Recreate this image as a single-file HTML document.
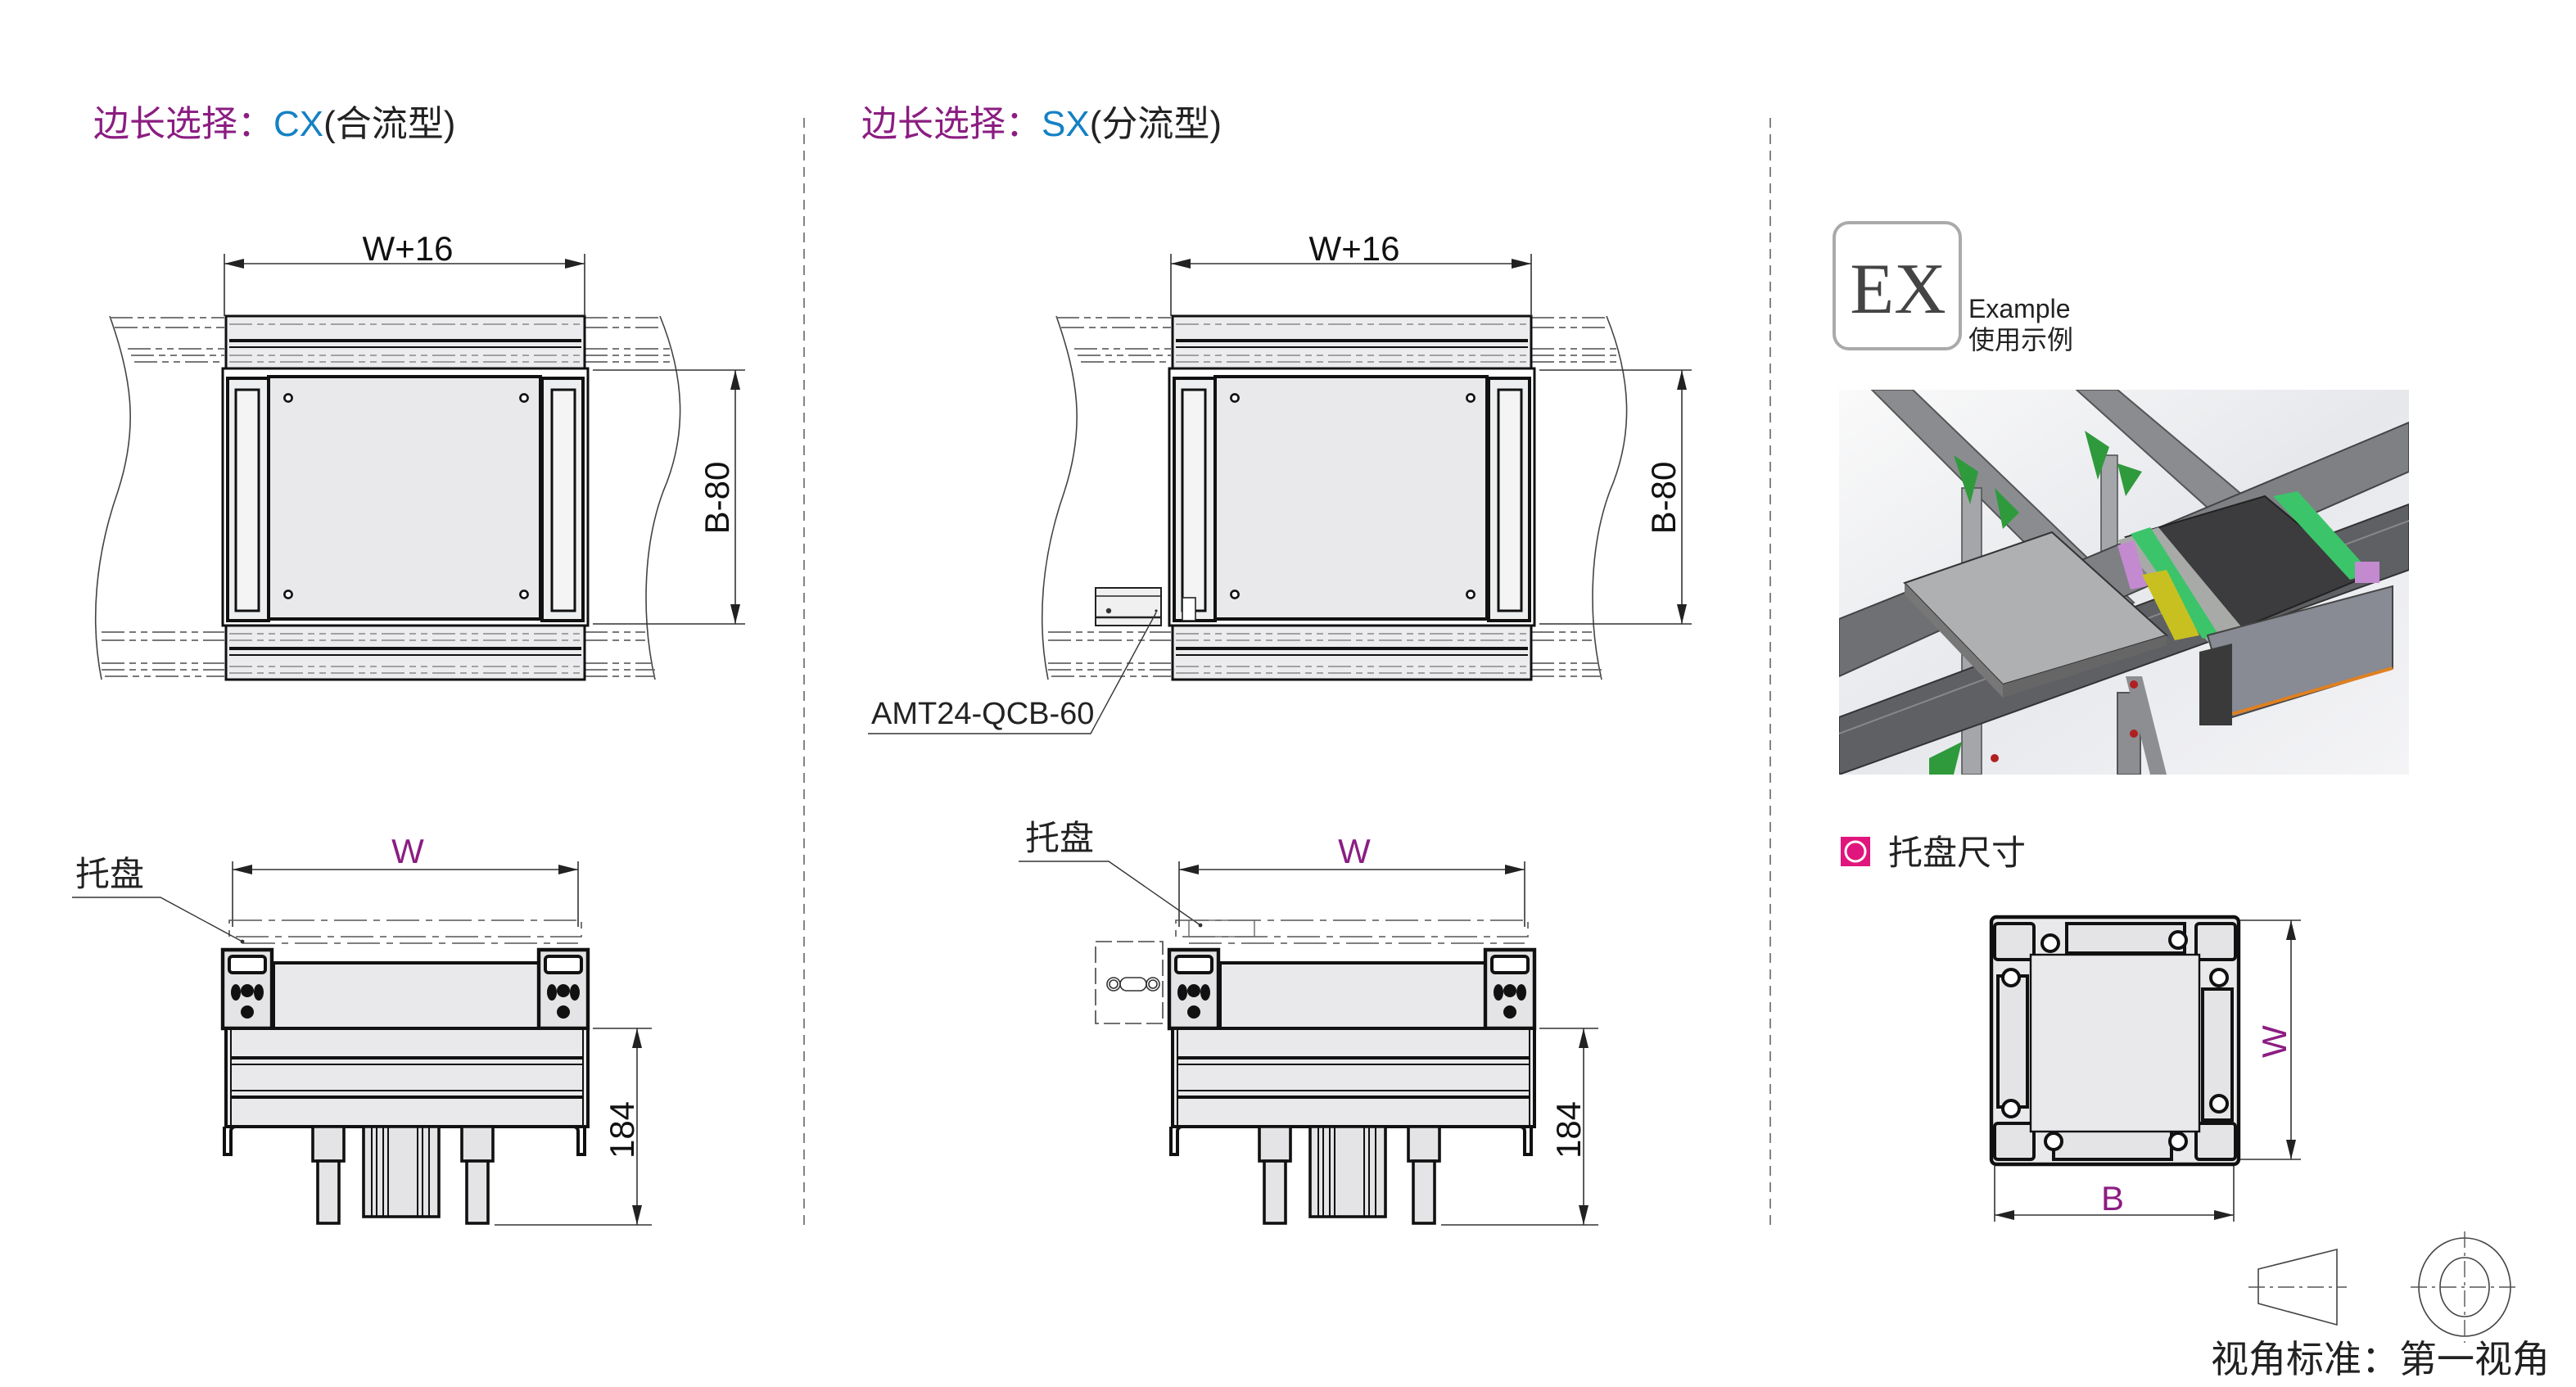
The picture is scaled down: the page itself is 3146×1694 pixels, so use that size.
<!DOCTYPE html>
<html><head><meta charset="utf-8"><style>
html,body{margin:0;padding:0;background:#fff;}
svg{display:block;}
text{font-family:"Liberation Sans","Noto Sans CJK SC",sans-serif;}
</style></head><body>
<svg width="3146" height="1694" viewBox="0 0 1573 847" xmlns="http://www.w3.org/2000/svg">
<defs>
<marker id="ar" markerWidth="12" markerHeight="6" refX="12" refY="3" orient="auto-start-reverse" markerUnits="userSpaceOnUse"><path d="M0,0 L12,3 L0,6 Z" fill="#222"/></marker>
<linearGradient id="bg" x1="0" y1="0" x2="1" y2="1"><stop offset="0" stop-color="#fafafa"/><stop offset="0.5" stop-color="#e6e8ec"/><stop offset="1" stop-color="#f4f4f6"/></linearGradient>

<g id="top">
  <g fill="none" stroke="#444" stroke-width="0.8">
    <path d="M67,193 C80,230 85,260 72,300 C58,340 55,380 62,415"/>
    <path d="M403,193 C418,230 420,265 405,300 C392,335 392,380 400,415"/>
  </g>
  <g stroke="#666" stroke-width="0.9" stroke-dasharray="14,3,4,3,4,3">
    <line x1="67" y1="194" x2="137" y2="194"/><line x1="70" y1="200" x2="137" y2="200"/>
    <line x1="78" y1="213" x2="137" y2="213"/><line x1="80" y1="217" x2="137" y2="217"/><line x1="82" y1="221" x2="137" y2="221"/>
    <line x1="357" y1="194" x2="403" y2="194"/><line x1="357" y1="200" x2="405" y2="200"/>
    <line x1="357" y1="213" x2="412" y2="213"/><line x1="357" y1="217" x2="412" y2="217"/><line x1="357" y1="221" x2="412" y2="221"/>
    <line x1="62" y1="386" x2="137" y2="386"/><line x1="62" y1="391" x2="137" y2="391"/>
    <line x1="62" y1="405" x2="137" y2="405"/><line x1="62" y1="409" x2="137" y2="409"/><line x1="64" y1="413" x2="137" y2="413"/>
    <line x1="357" y1="386" x2="394" y2="386"/><line x1="357" y1="391" x2="394" y2="391"/>
    <line x1="357" y1="405" x2="398" y2="405"/><line x1="357" y1="409" x2="400" y2="409"/><line x1="357" y1="413" x2="400" y2="413"/>
  </g>
  <rect x="138" y="193" width="219" height="32" fill="#ececee" stroke="#111" stroke-width="1.5"/>
  <line x1="140" y1="208" x2="355" y2="208" stroke="#111" stroke-width="2"/>
  <line x1="140" y1="212" x2="355" y2="212" stroke="#111" stroke-width="1"/>
  <g stroke="#888" stroke-width="0.8" stroke-dasharray="14,3,4,3,4,3">
    <line x1="140" y1="198" x2="355" y2="198"/><line x1="140" y1="217" x2="355" y2="217"/><line x1="140" y1="221" x2="355" y2="221"/>
  </g>
  <rect x="138" y="382" width="219" height="33" fill="#ececee" stroke="#111" stroke-width="1.5"/>
  <line x1="140" y1="396" x2="355" y2="396" stroke="#111" stroke-width="2"/>
  <line x1="140" y1="400" x2="355" y2="400" stroke="#111" stroke-width="1"/>
  <g stroke="#888" stroke-width="0.8" stroke-dasharray="14,3,4,3,4,3">
    <line x1="140" y1="387" x2="355" y2="387"/><line x1="140" y1="391" x2="355" y2="391"/><line x1="140" y1="407" x2="355" y2="407"/><line x1="140" y1="411" x2="355" y2="411"/>
  </g>
  <rect x="136" y="225" width="223" height="157" fill="#fff" stroke="#111" stroke-width="1.5"/>
  <rect x="164" y="230" width="166" height="148" fill="#e9e9ec" stroke="#111" stroke-width="2"/>
  <rect x="139" y="231" width="25" height="148" fill="#eceef0" stroke="#111" stroke-width="2"/>
  <rect x="144" y="238" width="14" height="135" fill="#f4f4f4" stroke="#111" stroke-width="1.5"/>
  <rect x="331" y="231" width="25" height="148" fill="#eceef0" stroke="#111" stroke-width="2"/>
  <rect x="337" y="238" width="14" height="135" fill="#f4f4f4" stroke="#111" stroke-width="1.5"/>
  <g fill="#fff" stroke="#111" stroke-width="1.3">
    <circle cx="176" cy="243" r="2.3"/><circle cx="320" cy="243" r="2.3"/>
    <circle cx="176" cy="363" r="2.3"/><circle cx="320" cy="363" r="2.3"/>
  </g>
  <g stroke="#333" stroke-width="0.8" fill="none">
    <line x1="137" y1="155" x2="137" y2="193"/><line x1="357" y1="155" x2="357" y2="193"/>
    <line x1="137" y1="161" x2="357" y2="161" marker-start="url(#ar)" marker-end="url(#ar)"/>
    <line x1="362" y1="226" x2="455" y2="226"/><line x1="362" y1="381" x2="455" y2="381"/>
    <line x1="449" y1="226" x2="449" y2="381" marker-start="url(#ar)" marker-end="url(#ar)"/>
  </g>
  <text x="249" y="159" font-size="21" text-anchor="middle" fill="#111">W+16</text>
  <text transform="translate(445,304) rotate(-90)" font-size="21" text-anchor="middle" fill="#111">B-80</text>
</g>

<g id="front">
  <g stroke="#333" stroke-width="0.8" fill="none">
    <line x1="142" y1="526" x2="142" y2="566"/><line x1="353" y1="526" x2="353" y2="566"/>
    <line x1="142" y1="531" x2="353" y2="531" marker-start="url(#ar)" marker-end="url(#ar)"/>
  </g>
  <rect x="140" y="562" width="215" height="10" fill="none" stroke="#555" stroke-width="0.8" stroke-dasharray="20,4,4,4"/>
  <line x1="148" y1="576" x2="353" y2="576" stroke="#555" stroke-width="0.8" stroke-dasharray="20,4,4,4"/>
  <rect x="167" y="588" width="162" height="40" fill="#e9e9ec" stroke="#111" stroke-width="2"/>
  <g fill="#e4e4e6" stroke="#111" stroke-width="2.2">
    <path d="M136,580 h30 v48 h-30 z"/>
    <path d="M329,580 h30 v48 h-30 z"/>
  </g>
  <g fill="#fff" stroke="#111" stroke-width="2">
    <rect x="140" y="584" width="22" height="10" rx="2"/>
    <rect x="333" y="584" width="22" height="10" rx="2"/>
  </g>
  <g fill="#111">
    <ellipse cx="144" cy="606" rx="3" ry="5"/><ellipse cx="158" cy="606" rx="3" ry="5"/><circle cx="151" cy="605" r="4"/><circle cx="151" cy="618" r="4"/>
    <ellipse cx="337" cy="606" rx="3" ry="5"/><ellipse cx="351" cy="606" rx="3" ry="5"/><circle cx="344" cy="605" r="4"/><circle cx="344" cy="618" r="4"/>
  </g>
  <rect x="138" y="628" width="221" height="60" fill="#e9e9ec" stroke="#111" stroke-width="2"/>
  <rect x="141" y="628" width="215" height="60" fill="none" stroke="#111" stroke-width="1"/>
  <g stroke="#111">
    <line x1="141" y1="646" x2="356" y2="646" stroke-width="2"/><line x1="141" y1="650" x2="356" y2="650" stroke-width="1"/>
    <line x1="141" y1="666" x2="356" y2="666" stroke-width="1"/><line x1="141" y1="670" x2="356" y2="670" stroke-width="2"/>
  </g>
  <path d="M137,688 v17 h4 v-14 q0,-3 3,-3 h206 q3,0 3,3 v14 h4 v-17" fill="none" stroke="#111" stroke-width="2"/>
  <g fill="#e4e4e6" stroke="#111" stroke-width="1.8">
    <rect x="191" y="688" width="19" height="21"/><rect x="194" y="709" width="13" height="38"/>
    <rect x="282" y="688" width="19" height="21"/><rect x="285" y="709" width="13" height="38"/>
    <rect x="222" y="688" width="46" height="55"/>
  </g>
  <g stroke="#111" stroke-width="1">
    <line x1="227" y1="688" x2="227" y2="743"/><line x1="230" y1="688" x2="230" y2="743"/><line x1="234" y1="688" x2="234" y2="743"/><line x1="237" y1="688" x2="237" y2="743"/>
    <line x1="255" y1="688" x2="255" y2="743"/><line x1="258" y1="688" x2="258" y2="743"/><line x1="262" y1="688" x2="262" y2="743"/>
  </g>
  <g stroke="#333" stroke-width="0.8" fill="none">
    <line x1="362" y1="628" x2="398" y2="628"/><line x1="302" y1="748" x2="398" y2="748"/>
    <line x1="389" y1="628" x2="389" y2="748" marker-start="url(#ar)" marker-end="url(#ar)"/>
  </g>
  <text transform="translate(387,690) rotate(-90)" font-size="21" text-anchor="middle" fill="#111">184</text>
  <text x="249" y="527" font-size="21" text-anchor="middle" fill="#8b1d82">W</text>
</g>
</defs>

<text x="57" y="83" font-size="22"><tspan fill="#8b1d82">边长选择：</tspan><tspan fill="#1481c4">CX</tspan><tspan fill="#222">(合流型)</tspan></text>
<text x="526" y="83" font-size="22"><tspan fill="#8b1d82">边长选择：</tspan><tspan fill="#1481c4">SX</tspan><tspan fill="#222">(分流型)</tspan></text>

<line x1="491" y1="72" x2="491" y2="752" stroke="#777" stroke-width="0.9" stroke-dasharray="6,4"/>
<line x1="1081" y1="72" x2="1081" y2="752" stroke="#777" stroke-width="0.9" stroke-dasharray="6,4"/>

<use href="#top"/>
<use href="#top" x="578"/>
<use href="#front"/>
<use href="#front" x="578"/>

<text x="46" y="541" font-size="21" fill="#222">托盘</text>
<polyline points="44,548 98,548 148,575" fill="none" stroke="#333" stroke-width="0.7"/>
<circle cx="148" cy="575" r="1.2" fill="#333"/>

<rect x="669" y="359" width="40" height="23" fill="#f0f0f0" stroke="#222" stroke-width="1"/>
<line x1="669" y1="364" x2="709" y2="364" stroke="#222" stroke-width="0.8"/>
<line x1="669" y1="377" x2="709" y2="377" stroke="#222" stroke-width="1.2"/>
<circle cx="677" cy="373" r="1.6" fill="#333"/><circle cx="706" cy="373" r="0.8" fill="#333"/>
<rect x="722" y="365" width="8" height="14" fill="#fff" stroke="#222" stroke-width="0.8"/>
<text x="532" y="442" font-size="19" fill="#222">AMT24-QCB-60</text>
<polyline points="530,448 666,448 706,374" fill="none" stroke="#333" stroke-width="0.7"/>
<text x="626" y="519" font-size="21" fill="#222">托盘</text>
<polyline points="622,526 677,526 733,565" fill="none" stroke="#333" stroke-width="0.7"/>
<circle cx="733" cy="565" r="1.2" fill="#333"/>
<rect x="669" y="575" width="41" height="50" fill="#fff" stroke="#444" stroke-width="0.8" stroke-dasharray="10,3"/>
<g fill="none" stroke="#333" stroke-width="0.8"><circle cx="680" cy="601" r="4"/><circle cx="680" cy="601" r="2.5"/><circle cx="704" cy="601" r="4"/><circle cx="704" cy="601" r="2.5"/><rect x="684" y="597" width="16" height="8" rx="4"/></g>
<rect x="726" y="562" width="40" height="10" fill="none" stroke="#666" stroke-width="0.7"/>

<rect x="1120" y="136" width="77" height="77" rx="9" fill="#fff" stroke="#aaa" stroke-width="2"/>
<text x="1159" y="191" text-anchor="middle" fill="#444" style="font-family:'Liberation Serif',serif;font-size:44px;">EX</text>
<text x="1159" y="198" text-anchor="middle" fill="#e2e2e2" style="font-family:'Liberation Serif',serif;font-size:44px;" transform="translate(0,396) scale(1,-1) translate(0,0)" opacity="0.5" clip-path="none"></text>
<text x="1202" y="194" font-size="16" fill="#222">Example</text>
<text x="1202" y="213" font-size="16" fill="#222">使用示例</text>

<svg x="1123" y="238" width="348" height="235" viewBox="0 0 348 235">
  <rect width="348" height="235" fill="url(#bg)"/>
  <polygon points="20,0 45,0 180,130 160,140" fill="#8a8c90" stroke="#555" stroke-width="1"/>
  <polygon points="145,0 170,0 265,80 245,90" fill="#8a8c90" stroke="#555" stroke-width="1"/>
  <rect x="75" y="60" width="12" height="175" fill="#a4a6aa" stroke="#555" stroke-width="0.8"/>
  <rect x="160" y="40" width="10" height="110" fill="#a4a6aa" stroke="#555" stroke-width="0.8"/>
  <rect x="170" y="185" width="14" height="50" fill="#8c8e92" stroke="#555"/>
  <polygon points="70,40 85,50 80,70" fill="#2f9a3c"/><polygon points="150,25 165,35 158,55" fill="#2f9a3c"/><polygon points="170,45 185,50 175,65" fill="#2f9a3c"/><polygon points="95,60 110,75 100,85" fill="#2f9a3c"/>
  <polygon points="55,225 75,215 70,235 55,235" fill="#2f9a3c"/>
  <polygon points="110,120 348,20 348,50 120,150" fill="#7e8084" stroke="#444" stroke-width="1"/>
  <polygon points="0,140 100,100 110,125 0,175" fill="#6e7074" stroke="#444"/>
  <polygon points="0,200 348,70 348,110 0,235" fill="#5e6064" stroke="#333" stroke-width="1"/>
  <line x1="0" y1="210" x2="348" y2="80" stroke="#888" stroke-width="1"/>
  <polygon points="175,90 260,65 320,115 235,150" fill="#3c3c3e" stroke="#222"/>
  <polygon points="170,92 195,84 250,150 228,157" fill="#a8aaa8"/>
  <polygon points="178,88 190,84 232,150 222,152" fill="#3cc46a"/>
  <polygon points="265,65 280,62 325,112 312,116" fill="#3cc46a"/>
  <polygon points="170,95 180,92 188,120 178,122" fill="#c48ad0"/>
  <polygon points="315,105 330,105 330,118 315,118" fill="#c48ad0"/>
  <polygon points="185,113 200,110 220,150 205,153" fill="#c8c020"/>
  <polygon points="40,118 130,87 200,150 100,180" fill="#aeb0b2" stroke="#333" stroke-width="1"/>
  <polygon points="40,118 100,180 100,188 40,125" fill="#777"/>
  <polygon points="100,180 200,150 200,156 100,188" fill="#666"/>
  <polygon points="225,150 338,120 338,170 240,200" fill="#888a94" stroke="#444"/>
  <line x1="240" y1="198" x2="338" y2="170" stroke="#e08020" stroke-width="2"/>
  <polygon points="220,160 240,155 240,205 220,205" fill="#3a3a3a"/>
  <polygon points="175,175 185,175 200,235 190,235" fill="#8c8e92"/>
  <circle cx="180" cy="180" r="2.5" fill="#b02020"/><circle cx="180" cy="210" r="2.5" fill="#b02020"/><circle cx="95" cy="225" r="2.5" fill="#b02020"/>
</svg>

<rect x="1124" y="511" width="18" height="18" fill="#e0157e"/>
<circle cx="1133" cy="520" r="6" fill="none" stroke="#fff" stroke-width="1.5"/>
<text x="1153" y="528" font-size="21" fill="#222">托盘尺寸</text>

<rect x="1216" y="560" width="151" height="151" rx="3" fill="#e9e9ec" stroke="#111" stroke-width="2.2"/>
<g fill="#e4e4e6" stroke="#111" stroke-width="2">
  <rect x="1218" y="564" width="24" height="22" rx="2"/><rect x="1341" y="564" width="24" height="22" rx="2"/>
  <rect x="1218" y="686" width="24" height="22" rx="2"/><rect x="1341" y="686" width="24" height="22" rx="2"/>
  <rect x="1262" y="564" width="72" height="18"/><rect x="1254" y="690" width="72" height="18"/>
  <rect x="1220" y="596" width="18" height="80"/><rect x="1345" y="604" width="18" height="80"/>
</g>
<rect x="1240" y="583" width="103" height="108" fill="#e9e9ec" stroke="#111" stroke-width="1.2"/>
<g fill="#fff" stroke="#111" stroke-width="2">
  <circle cx="1252" cy="576" r="5"/><circle cx="1330" cy="574" r="5"/><circle cx="1228" cy="597" r="5"/><circle cx="1355" cy="597" r="5"/>
  <circle cx="1228" cy="677" r="5"/><circle cx="1355" cy="674" r="5"/><circle cx="1254" cy="697" r="5"/><circle cx="1330" cy="697" r="5"/>
</g>
<g stroke="#333" stroke-width="0.8" fill="none">
  <line x1="1368" y1="562" x2="1405" y2="562"/><line x1="1368" y1="708" x2="1405" y2="708"/>
  <line x1="1399" y1="562" x2="1399" y2="708" marker-start="url(#ar)" marker-end="url(#ar)"/>
  <line x1="1218" y1="712" x2="1218" y2="746"/><line x1="1364" y1="712" x2="1364" y2="746"/>
  <line x1="1218" y1="742" x2="1364" y2="742" marker-start="url(#ar)" marker-end="url(#ar)"/>
</g>
<text transform="translate(1396,636) rotate(-90)" font-size="21" text-anchor="middle" fill="#8b1d82">W</text>
<text x="1290" y="739" font-size="21" text-anchor="middle" fill="#8b1d82">B</text>

<polygon points="1379,775 1427,763 1427,809 1379,796" fill="none" stroke="#444" stroke-width="0.8"/>
<line x1="1373" y1="786" x2="1433" y2="786" stroke="#555" stroke-width="0.7" stroke-dasharray="10,3,2,3"/>
<ellipse cx="1505" cy="786" rx="28" ry="30" fill="none" stroke="#444" stroke-width="0.8"/>
<ellipse cx="1505" cy="786" rx="15" ry="18" fill="none" stroke="#444" stroke-width="0.8"/>
<line x1="1505" y1="752" x2="1505" y2="820" stroke="#555" stroke-width="0.7" stroke-dasharray="10,3,2,3"/>
<line x1="1472" y1="786" x2="1538" y2="786" stroke="#555" stroke-width="0.7" stroke-dasharray="10,3,2,3"/>
<text x="1350" y="838" font-size="23" fill="#222">视角标准：第一视角</text>
</svg>
</body></html>
